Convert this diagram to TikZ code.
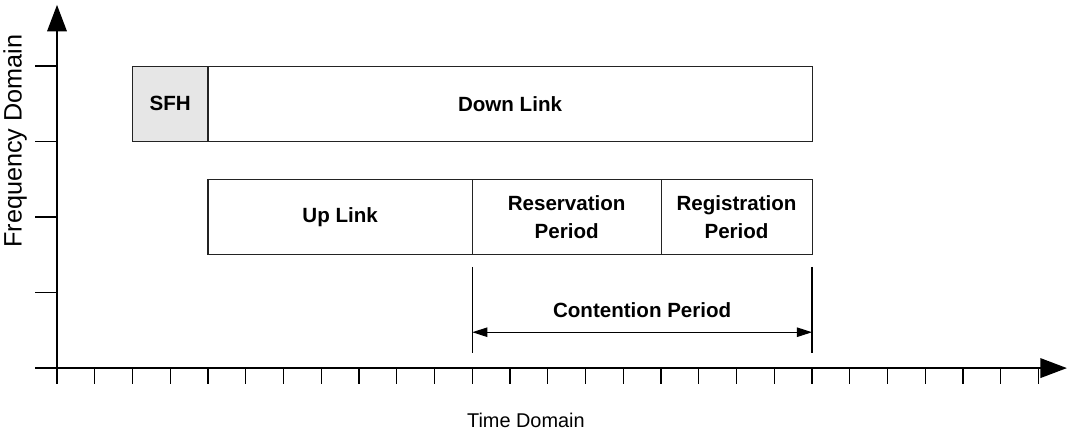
\documentclass[tikz,border=0pt]{standalone}
\usepackage{fontspec}
\setmainfont{Liberation Sans}
\usetikzlibrary{arrows.meta, positioning}
\definecolor{HeaderGray}{RGB}{230, 230, 230}
\definecolor{FrameGray}{RGB}{35, 35, 35}

\begin{document}
\begin{tikzpicture}[
    frame/.style={draw=FrameGray, line width=0.8pt, minimum height=2cm,
                  inner sep=0pt, outer sep=0pt, align=center,
                  font=\fontsize{15.5}{20.5}\selectfont\bfseries},
    axis/.style={line width=1pt, -{Triangle[length=0.7cm, width=0.52cm]}},
    tick/.style={line width=1pt},
    bar/.style={line width=1pt},
    span/.style={line width=0.8pt,
                 {Triangle[length=0.4cm, width=0.25cm]}-{Triangle[length=0.4cm, width=0.25cm]}}
  ]
    \useasboundingbox (-1.51,-1.67) rectangle (26.78,9.75);
    % Axes
    \draw[axis] (-0.58,0) -- (26.75,0);
    \draw[axis] (0,-0.42) -- (0,9.62);
    % Time ticks
    \foreach \x in {0,...,26} {
        \draw[tick] (\x,0) -- (\x,-0.42);
    }
    % Frequency ticks
    \foreach \y in {2,4,6,8} {
        \draw[tick] (-0.58,\y) -- (0,\y);
    }
    % Down link row
    \node[frame, fill=HeaderGray, minimum width=2cm] (sfh) at (3,7) {SFH};
    \node[frame, minimum width=16cm, right=0pt of sfh] (dl) {Down Link};
    % Up link row
    \node[frame, minimum width=7cm] (ul) at (7.5,4) {Up Link};
    \node[frame, minimum width=5cm, right=0pt of ul] (res) {Reservation\\Period};
    \node[frame, minimum width=4cm, right=0pt of res] (reg) {Registration\\Period};
    % Contention period
    \coordinate (cl) at (11,2.68);
    \coordinate (clb) at (11,0.4);
    \coordinate (cr) at (20,2.68);
    \coordinate (crb) at (20,0.4);
    \coordinate (al) at (11,0.95);
    \coordinate (ar) at (20,0.95);
    \draw[bar] (cl) -- (clb);
    \draw[bar] (cr) -- (crb);
    \draw[span] (al) -- (ar);
    \node[font=\fontsize{15.5}{20.5}\selectfont\bfseries] (cont) at (15.5,1.54) {Contention Period};
    % Axis labels
    \node[rotate=90, font=\fontsize{19}{22}\selectfont] (flabel) at (-1.11,6.01) {Frequency Domain};
    \node[font=\fontsize{15}{18}\selectfont] (tlabel) at (12.42,-1.38) {Time Domain};
\end{tikzpicture}
\end{document}
